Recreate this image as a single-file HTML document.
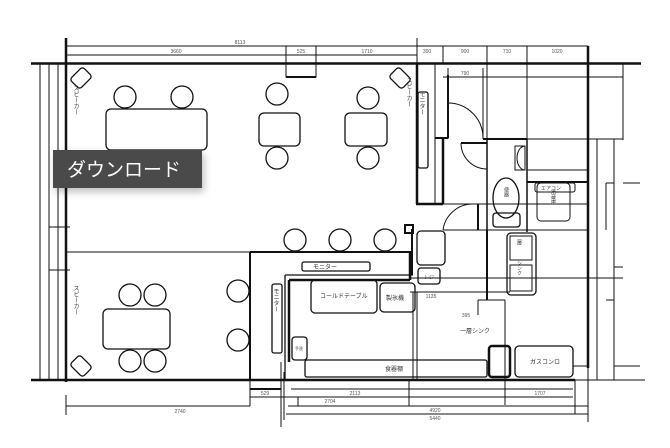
<!DOCTYPE html>
<html><head><meta charset="utf-8"><style>
html,body{margin:0;padding:0;background:#fff;}
svg{display:block;font-family:"Liberation Sans","Noto Sans CJK JP",sans-serif;}
.t{font-size:5px;fill:#555;}
.j{font-size:6px;fill:#333;}
</style></head><body>
<svg width="670" height="448" viewBox="0 0 670 448" xmlns="http://www.w3.org/2000/svg">
<defs><filter id="sh" x="-20%" y="-40%" width="140%" height="200%"><feGaussianBlur stdDeviation="4"/></filter></defs>
<g fill="none" stroke="#111" stroke-width="1">
<line x1="66" y1="46" x2="417" y2="46"/>
<line x1="66" y1="55" x2="417" y2="55"/>
<line x1="417" y1="46" x2="588" y2="46"/>
<line x1="66" y1="38" x2="66" y2="63"/>
<line x1="417" y1="38" x2="417" y2="63"/>
<line x1="443" y1="46" x2="443" y2="63"/>
<line x1="487" y1="46" x2="487" y2="139"/>
<line x1="527" y1="46" x2="527" y2="139"/>
<line x1="448" y1="68" x2="448" y2="139"/>
<line x1="483" y1="68" x2="483" y2="139"/>
<line x1="443" y1="77" x2="623" y2="77"/>
<line x1="623" y1="63" x2="623" y2="140"/>
<line x1="31" y1="63.5" x2="641" y2="63.5" stroke-width="2.5"/>
<line x1="66" y1="38" x2="66" y2="382" stroke-width="2.5"/>
<line x1="31" y1="380" x2="575" y2="380" stroke-width="2.5"/>
<line x1="575" y1="380" x2="645" y2="380"/>
<line x1="40" y1="63" x2="40" y2="380"/>
<line x1="49" y1="63" x2="49" y2="380"/>
<line x1="58" y1="63" x2="58" y2="380"/>
<line x1="49" y1="227" x2="70" y2="227"/>
<line x1="49" y1="270" x2="70" y2="270"/>
<rect x="286" y="46" width="30" height="31"/>
<line x1="286" y1="77" x2="316" y2="77" stroke-width="2"/>
<rect x="72" y="71" width="18" height="14" rx="3" transform="rotate(-45 81 78)" stroke-width="1.3"/>
<rect x="391" y="71" width="18" height="14" rx="3" transform="rotate(45 400 78)" stroke-width="1.3"/>
<rect x="72" y="359" width="18" height="14" rx="3" transform="rotate(45 81 366)" stroke-width="1.3"/>
<g stroke-width="1.3">
<circle cx="125" cy="97" r="11"/><circle cx="182" cy="97" r="11"/>
<rect x="106" y="109" width="101" height="41" rx="5"/>
<circle cx="277" cy="94" r="11"/><circle cx="277" cy="158" r="11"/>
<rect x="259" y="113" width="41" height="33" rx="5"/>
<circle cx="368" cy="98" r="11"/><circle cx="368" cy="158" r="11"/>
<rect x="345" y="113" width="42" height="33" rx="5"/>
<circle cx="295" cy="240" r="11"/><circle cx="340" cy="240" r="11"/><circle cx="385" cy="240" r="11"/>
<circle cx="130" cy="295" r="11"/><circle cx="155" cy="295" r="11"/>
<circle cx="130" cy="361" r="11"/><circle cx="155" cy="361" r="11"/>
<rect x="103" y="309" width="67" height="40" rx="5"/>
<circle cx="238" cy="291" r="11"/><circle cx="238" cy="340" r="11"/>
</g>
<line x1="66" y1="252" x2="250" y2="252"/>
<line x1="250" y1="252" x2="412" y2="252" stroke-width="2"/>
<line x1="250" y1="252" x2="250" y2="380" stroke-width="2"/>
<rect x="405" y="225" width="8" height="8" stroke-width="2"/>
<line x1="412" y1="229" x2="412" y2="275" stroke-width="2"/>
<line x1="417" y1="63" x2="417" y2="204" stroke-width="2.5"/>
<line x1="435" y1="63" x2="435" y2="204"/>
<line x1="443" y1="138" x2="443" y2="204" stroke-width="2.5"/>
<line x1="416" y1="204" x2="443" y2="204" stroke-width="2.5"/>
<line x1="435" y1="138" x2="448" y2="138" stroke-width="2"/>
<line x1="448" y1="75" x2="448" y2="138" stroke-width="2"/>
<rect x="418" y="92" width="10" height="76" rx="2" stroke-width="1.3"/>
<path d="M448 103 A35 35 0 0 1 483 138"/>
<line x1="461" y1="143" x2="487" y2="143" stroke-width="2"/>
<path d="M461 143 A26 26 0 0 0 487 169"/>
<line x1="483" y1="139" x2="527" y2="139" stroke-width="2"/>
<line x1="487" y1="139" x2="487" y2="230" stroke-width="1.5"/>
<line x1="527" y1="139" x2="527" y2="232" stroke-width="1.5"/>
<line x1="443" y1="204" x2="588" y2="204"/>
<path d="M525 146 a8 12 0 0 0 0 24 z" />
<rect x="515" y="146" width="10" height="24"/>
<ellipse cx="506" cy="198" rx="13" ry="20" stroke-width="1.3"/>
<rect x="493" y="213" width="27" height="14" rx="3" stroke-width="1.3"/>
<line x1="527" y1="139" x2="623" y2="139"/>
<line x1="527" y1="170" x2="588" y2="170"/>
<line x1="527" y1="182" x2="588" y2="182" stroke-width="2"/>
<rect x="535" y="183" width="40" height="9" rx="2"/>
<rect x="537" y="183" width="33" height="38" rx="4"/>
<line x1="443" y1="230" x2="588" y2="230"/>
<path d="M443 230 A30 30 0 0 1 473 204"/>
<line x1="478" y1="204" x2="478" y2="230" stroke-width="2"/>
<line x1="588" y1="46" x2="588" y2="368" stroke-width="2.5"/>
<line x1="597" y1="139" x2="597" y2="380"/>
<line x1="614" y1="139" x2="614" y2="380"/>
<line x1="606" y1="183" x2="614" y2="183"/>
<line x1="606" y1="183" x2="606" y2="230"/>
<line x1="623" y1="183" x2="640" y2="183"/>
<line x1="614" y1="267" x2="623" y2="267"/>
<line x1="606" y1="300" x2="614" y2="300"/>
<line x1="614" y1="366" x2="640" y2="366"/>
<line x1="588" y1="278" x2="623" y2="278"/>
<line x1="410" y1="278" x2="588" y2="278"/>
<line x1="410" y1="292" x2="510" y2="292"/>
<rect x="302" y="262" width="68" height="9" rx="2" stroke-width="1.3"/>
<line x1="285" y1="275" x2="413" y2="275" stroke-width="1.3"/>
<line x1="285" y1="275" x2="285" y2="380" stroke-width="1.3"/>
<line x1="289" y1="280" x2="410" y2="280" stroke-width="2.5"/>
<line x1="289" y1="280" x2="289" y2="362" stroke-width="2.5"/>
<line x1="410" y1="252" x2="410" y2="280" stroke-width="2.5"/>
<rect x="272" y="284" width="10" height="69" rx="2" stroke-width="1.3"/>
<rect x="311" y="280" width="66" height="33" rx="4" stroke-width="1.3"/>
<rect x="380" y="283" width="35" height="29" rx="4" stroke-width="1.3"/>
<rect x="292" y="337" width="15" height="23" rx="3" stroke-width="1.3"/>
<rect x="305" y="360" width="182" height="17" rx="2" stroke-width="1.3"/>
<rect x="489" y="346" width="21" height="31" rx="3" stroke-width="2.5"/>
<rect x="515" y="346" width="58" height="31" rx="4" stroke-width="1.3"/>
<line x1="573" y1="366" x2="588" y2="366"/>
<line x1="413" y1="292" x2="413" y2="380"/>
<line x1="417" y1="292" x2="417" y2="380"/>
<rect x="417" y="231" width="28" height="34" rx="4" stroke-width="1.3"/>
<rect x="418" y="268" width="22" height="16" rx="3" stroke-width="1.3"/>
<rect x="507" y="233" width="29" height="62" rx="4" stroke-width="1.3"/>
<rect x="510" y="236" width="22" height="24"/>
<rect x="510" y="265" width="22" height="26"/>
<line x1="487" y1="230" x2="487" y2="300" stroke-width="2"/>
<line x1="478" y1="300" x2="505" y2="300"/>
<line x1="478" y1="300" x2="478" y2="315"/>
<line x1="505" y1="300" x2="505" y2="405"/>
<line x1="66" y1="395" x2="66" y2="415"/>
<line x1="66" y1="406" x2="250" y2="406"/>
<line x1="250" y1="380" x2="250" y2="406"/>
<line x1="250" y1="389" x2="281" y2="389" stroke-width="2"/>
<line x1="250" y1="397" x2="573" y2="397"/>
<line x1="281" y1="362" x2="281" y2="427"/>
<line x1="284" y1="372" x2="284" y2="420"/>
<line x1="291" y1="389" x2="573" y2="389"/>
<line x1="298" y1="397" x2="298" y2="406"/>
<line x1="288" y1="406" x2="588" y2="406"/>
<line x1="286" y1="414" x2="588" y2="414"/>
<line x1="409" y1="380" x2="409" y2="406"/>
<line x1="575" y1="380" x2="575" y2="414"/>
<line x1="588" y1="368" x2="588" y2="422"/>
</g>
<g class="t" text-anchor="middle">
<text x="240" y="44">8113</text><text x="176" y="53">3660</text><text x="301" y="53">525</text>
<text x="367" y="53">1710</text><text x="427" y="53">300</text><text x="465" y="53">900</text>
<text x="507" y="53">710</text><text x="557" y="53">1020</text><text x="465" y="75">790</text>
<text x="180" y="413">2740</text><text x="265" y="395">529</text><text x="355" y="395">2113</text>
<text x="330" y="403">2704</text><text x="435" y="412">4920</text><text x="435" y="420">5440</text>
<text x="540" y="395">1707</text><text x="431" y="298">1135</text><text x="466" y="317">395</text>
</g>
<g class="j">
<text x="320" y="298">コールドテーブル</text><text x="386" y="300">製氷機</text>
<text x="385" y="371">食器棚</text><text x="530" y="364">ガスコンロ</text>
<text x="313" y="269">モニター</text><text x="541" y="190" font-size="5">エアコン</text>
<text x="460" y="333">一層シンク</text>
<text x="424" y="279" font-size="5">レジ</text>
<text x="295" y="350" font-size="4">手洗</text>
</g>
<g class="j" text-anchor="middle">
<text x="421" y="103" writing-mode="tb">モニター</text>
<text x="275" y="300" writing-mode="tb">モニター</text>
<text x="408" y="92" writing-mode="tb">スピーカー</text>
<text x="75" y="100" writing-mode="tb">スピーカー</text>
<text x="75" y="300" writing-mode="tb">スピーカー</text>
<text x="519" y="240" writing-mode="tb" font-size="5">二層</text>
<text x="519" y="268" writing-mode="tb" font-size="5">シンク</text>
<text x="553" y="197" writing-mode="tb" font-size="5">冷蔵庫</text>
<text x="506" y="192" writing-mode="tb" font-size="5">便器</text>
</g>
<rect x="55" y="154" width="149" height="38" fill="#000" opacity="0.25" filter="url(#sh)"/>
<rect x="53" y="150" width="149" height="38" fill="#4a4a4a"/>
<text x="67" y="176" font-size="19" fill="#fff">ダウンロード</text>
</svg>
</body></html>
